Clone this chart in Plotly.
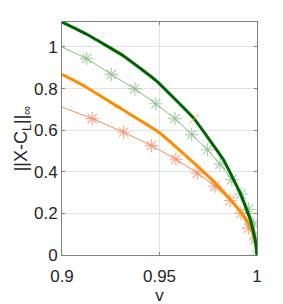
import plotly.graph_objects as go

# Dark green thick line
v_dg = [0.9, 0.9127, 0.9316, 0.9485, 0.9674, 0.9828, 0.9914, 0.9966, 0.9991, 1.0]
y_dg = [1.12, 1.061, 0.957, 0.836, 0.659, 0.458, 0.297, 0.169, 0.070, 0.0]

# Single tick mark sitting on the dark green line
v_dg_mark = [0.9677]
y_dg_mark = [0.655]

# Light green starred line
v_lg = [0.9, 0.9127, 0.9253, 0.9373, 0.9481, 0.9579, 0.9665, 0.9746, 0.9811, 0.9871, 0.9918, 0.9957, 0.9983, 0.9995, 1.0]
y_lg = [1.0, 0.944, 0.868, 0.799, 0.727, 0.656, 0.579, 0.506, 0.437, 0.362, 0.293, 0.220, 0.150, 0.080, 0.0]

# Orange thick line
v_or = [0.9, 0.912, 0.931, 0.95, 0.9639, 0.9777, 0.988, 0.994, 0.9974, 0.9991, 1.0]
y_or = [0.868, 0.809, 0.699, 0.588, 0.474, 0.354, 0.249, 0.177, 0.121, 0.072, 0.04]

# Light orange starred line
v_lo = [0.9, 0.9155, 0.9316, 0.9459, 0.9584, 0.9694, 0.9785, 0.9863, 0.9918, 0.9957, 0.9991]
y_lo = [0.711, 0.656, 0.590, 0.526, 0.461, 0.394, 0.330, 0.262, 0.201, 0.129, 0.072]

x_ticks = [0.9, 0.95, 1.0]
x_tick_labels = ["0.9", "0.95", "1"]
y_ticks = [0, 0.2, 0.4, 0.6, 0.8, 1.0]
y_tick_labels = ["0", "0.2", "0.4", "0.6", "0.8", "1"]

FONT = "Liberation Sans, Arial, Helvetica"

fig = go.Figure()
fig.add_trace(go.Scatter(x=v_lo, y=y_lo, mode="lines+markers",
                         line=dict(color="#f4895f", width=1),
                         marker=dict(symbol="asterisk-open", size=[0] + [11] * (len(v_lo) - 1),
                                     line=dict(color="#f4895f", width=1.2))))
fig.add_trace(go.Scatter(x=v_or, y=y_or, mode="lines",
                         line=dict(color="#ff8c00", width=3, shape="spline", smoothing=0.5)))
fig.add_trace(go.Scatter(x=v_lg, y=y_lg, mode="lines+markers",
                         line=dict(color="#86bb86", width=1),
                         marker=dict(symbol="asterisk-open", size=[0] + [11] * (len(v_lg) - 1),
                                     line=dict(color="#6aaa6a", width=1.2))))
fig.add_trace(go.Scatter(x=v_dg, y=y_dg, mode="lines",
                         line=dict(color="#006400", width=3, shape="spline", smoothing=0.3)))
fig.add_trace(go.Scatter(x=v_dg_mark, y=y_dg_mark, mode="markers",
                         marker=dict(symbol="line-ne-open", size=9,
                                     line=dict(color="#006400", width=1))))

axis_common = dict(showline=True, linecolor="#808080", linewidth=1, mirror="ticks",
                   ticks="inside", ticklen=3, tickcolor="#808080",
                   showgrid=True, gridcolor="#e3e3e3", gridwidth=1, zeroline=False,
                   tickfont=dict(family=FONT, size=17, color="#262626"))

fig.update_xaxes(range=[0.9, 1.0], tickvals=x_ticks, ticktext=x_tick_labels,
                 ticklabelstandoff=6,
                 title=dict(text="v", font=dict(family=FONT, size=17, color="#262626"), standoff=0),
                 **axis_common)
fig.update_yaxes(range=[0, 1.12], tickvals=y_ticks, ticktext=y_tick_labels,
                 title=dict(text="||X-C<sub>L</sub>||<sub>∞</sub>", font=dict(family=FONT, size=18, color="#262626"), standoff=1),
                 **axis_common)

fig.update_layout(width=283, height=304, showlegend=False,
                  margin=dict(l=54, r=34, t=14, b=57, autoexpand=False),
                  plot_bgcolor="white", paper_bgcolor="white")

fig.write_html("out.html")
